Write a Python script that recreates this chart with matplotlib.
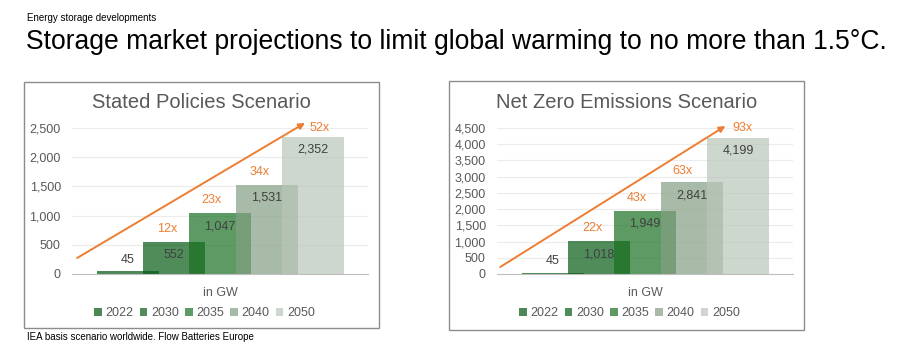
import numpy as np
import matplotlib
matplotlib.use("Agg")
import matplotlib.pyplot as plt
from matplotlib.patches import Rectangle
from matplotlib.ticker import FuncFormatter, MultipleLocator

plt.rcParams['font.family'] = ['Liberation Sans', 'DejaVu Sans']

# data
years = ['2022', '2030', '2035', '2040', '2050']
stated = [45, 552, 1047, 1531, 2352]
stated_mult = ['', '12x', '23x', '34x', '52x']
netzero = [45, 1018, 1949, 2841, 4199]
netzero_mult = ['', '22x', '43x', '63x', '93x']

bar_colors = ['#00550e', '#055b13', '#1a7022', '#839f83', '#b8c6b8']
orange = '#ED7D31'
grey_txt = '#595959'

fig = plt.figure(figsize=(9, 3.51), dpi=100)
W, H = 900, 351


def fx(px):
    return px / W


def fy(py):
    return (H - py) / H


# header / footer
fig.text(fx(27), fy(18), 'Energy storage developments', fontsize=7,
         va='center', ha='left', color='black')
fig.text(fx(26), fy(42), 'Storage market projections to limit global warming to no more than 1.5°C.',
         fontsize=19.1, va='center', ha='left', color='black')
fig.text(fx(27), fy(337), 'IEA basis scenario worldwide. Flow Batteries Europe', fontsize=7,
         va='center', ha='left', color='black')


def panel(box, ax_px, title, vals, mults, ymax, arrow, mult_off):
    # chart frame
    x0, y0, x1, y1 = box
    fig.patches.append(Rectangle((fx(x0), fy(y1)), fx(x1 - x0), (y1 - y0) / H,
                                 transform=fig.transFigure, fill=False,
                                 edgecolor='#8c8c8c', linewidth=1.0))
    fig.text(fx((x0 + x1) / 2), fy(102), title, fontsize=14.5, color=grey_txt,
             ha='center', va='center')

    ax = fig.add_axes([fx(ax_px[0]), fy(274), fx(ax_px[1] - ax_px[0]), 146 / H])
    x = np.arange(len(vals))
    for i in range(len(vals)):
        ax.bar(x[i], vals[i], width=1.34, color=bar_colors[i], alpha=0.7,
               zorder=2, label=years[i], linewidth=0)
        if vals[i] < ymax * 0.1:
            ax.annotate(f'{vals[i]:,}', (x[i], vals[i]), xytext=(0, 4),
                        textcoords='offset points', ha='center', va='bottom',
                        fontsize=9, color='#404040', zorder=5)
        else:
            ax.annotate(f'{vals[i]:,}', (x[i], vals[i]), xytext=(0, -9.5),
                        textcoords='offset points', ha='center', va='center',
                        fontsize=9, color='#404040', zorder=5)
        if mults[i]:
            ax.annotate(mults[i], (x[i], vals[i]), xytext=mult_off[i],
                        textcoords='offset points', ha='center', va='center',
                        fontsize=9, color=orange, zorder=5)

    ax.annotate('', xy=arrow[1], xytext=arrow[0], annotation_clip=False,
                arrowprops=dict(arrowstyle='-|>', color=orange, lw=1.4,
                                mutation_scale=9, shrinkA=0, shrinkB=0), zorder=6)

    ax.set_xlim(-1.2, 5.19)
    ax.set_ylim(0, ymax)
    ax.yaxis.set_major_locator(MultipleLocator(500))
    ax.yaxis.set_major_formatter(FuncFormatter(lambda v, p: f'{v:,.0f}'))
    ax.grid(axis='y', color='#ececec', linewidth=0.8, zorder=0)
    ax.set_xticks([])
    ax.tick_params(axis='y', length=0, labelsize=9, labelcolor=grey_txt, pad=8)
    for s in ['top', 'right', 'left']:
        ax.spines[s].set_visible(False)
    ax.spines['bottom'].set_color('#bfbfbf')
    ax.spines['bottom'].set_zorder(3)
    ax.set_xlabel('in GW', fontsize=9, color=grey_txt, labelpad=9)

    fig.legend(*ax.get_legend_handles_labels(), loc='center',
               bbox_to_anchor=(fx((x0 + x1) / 2 + 3), fy(313)), ncol=5,
               frameon=False, fontsize=9, handlelength=0.6, handleheight=0.6,
               handletextpad=0.3, columnspacing=0.5, labelcolor=grey_txt)
    return ax


panel((24, 82, 379, 328), (72, 368), 'Stated Policies Scenario', stated, stated_mult,
      2500, ((-1.09, 274), (3.83, 2586)),
      [None, (-4.5, 9), (-6.5, 9), (-5, 9), (5, 6.5)])
panel((449, 81, 804, 330), (497, 793), 'Net Zero Emissions Scenario', netzero, netzero_mult,
      4500, ((-1.13, 216), (3.73, 4562)),
      [None, (-5, 9), (-6, 9), (-6.5, 7.5), (3.5, 7)])

fig.savefig('out.png', dpi=100)
